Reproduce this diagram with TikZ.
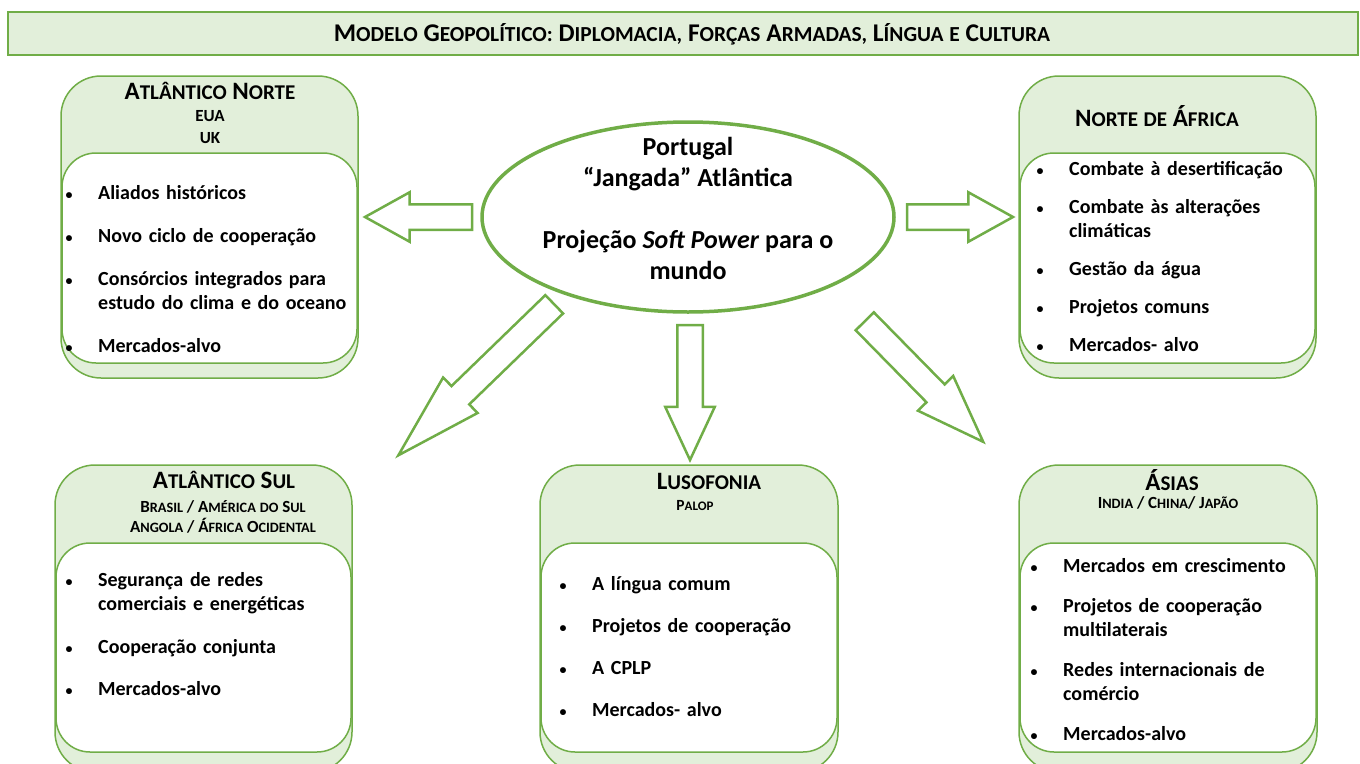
\documentclass[tikz,border=0pt]{standalone}
\usepackage{fontspec}
\setmainfont{Carlito}
\usepackage{enumitem}
\usetikzlibrary{shapes.geometric, shapes.arrows, positioning}

\definecolor{leafgreen}{HTML}{70AD47}
\definecolor{palegreen}{HTML}{E2EFDA}

\makeatletter
\newcommand\smcap[2]{#1{\fontsize{\fpeval{0.84*\f@size}}{\f@baselineskip}\selectfont #2}}
\makeatother

\setlist[itemize]{label={\strut\hspace*{2.5pt}{\fontsize{14}{14}\selectfont\textbullet}}, leftmargin=35pt, labelsep=0pt, labelwidth=35pt, align=left, topsep=0pt, partopsep=0pt, parsep=0pt, itemsep=19pt}

\begin{document}
\begin{tikzpicture}[x=1pt, y=-1pt,
    outerbox/.style={draw=leafgreen, line width=1.5pt, fill=palegreen, rounded corners=40pt},
    innerbox/.style={draw=leafgreen, line width=1.5pt, fill=white, rounded corners=34pt},
    titlebar/.style={draw=leafgreen, line width=2pt, fill=palegreen, minimum width=1350pt, minimum height=43pt, inner sep=0pt},
    titletext/.style={anchor=base, inner sep=0pt, font=\bfseries\fontsize{25.5}{30}\selectfont},
    regionhead/.style={anchor=base, inner sep=0pt, font=\bfseries\fontsize{25}{30}\selectfont},
    regionsub/.style={anchor=base, inner sep=0pt, font=\bfseries\fontsize{17}{20}\selectfont},
    itemlist/.style={anchor=north west, inner sep=0pt, text width=300pt, align=left, font=\bfseries\fontsize{20}{24}\selectfont},
    hub/.style={ellipse, draw=leafgreen, line width=3.5pt, fill=white, minimum width=412pt, minimum height=190pt, inner sep=0pt},
    hubtext/.style={align=center, inner sep=0pt, font=\bfseries\fontsize{26}{31}\selectfont},
    blockarrow/.style={single arrow, draw=leafgreen, line width=2.5pt, fill=white, inner xsep=0pt, inner ysep=11.5pt, minimum width=0pt, single arrow head extend=12pt, anchor=tail}]
    \useasboundingbox (0,0) rectangle (1360,763);

    % Title bar
    \node[titlebar] (titleBar) at (683,33.5) {};
    \node[titletext] (titleText) at (692,41) {\smcap{M}{ODELO} \smcap{G}{EOPOLÍTICO:} \smcap{D}{IPLOMACIA,} \smcap{F}{ORÇAS} \smcap{A}{RMADAS,} \smcap{L}{ÍNGUA} \smcap{}{E} \smcap{C}{ULTURA}};

    % Atlantico Norte
    \draw[outerbox] (61,76) rectangle (358,378);
    \draw[innerbox] (62,153) rectangle (357,363);
    \node[regionhead] (anHead) at (210,99) {\smcap{A}{TLÂNTICO} \smcap{N}{ORTE}};
    \node[regionsub] (anSubA) at (210,121.5) {EUA};
    \node[regionsub] (anSubB) at (210,143.5) {UK};
    \node[itemlist] (anItems) at (63,175) {\begin{itemize}
        \item Aliados históricos
        \item Novo ciclo de cooperação
        \item Consórcios integrados para\newline estudo do clima e do oceano
        \item Mercados-alvo
    \end{itemize}};

    % Norte de Africa
    \draw[outerbox] (1019,76) rectangle (1316,378);
    \draw[innerbox] (1020,153) rectangle (1315,363);
    \node[regionhead] (naHead) at (1157,126) {\smcap{N}{ORTE} \smcap{}{DE} \smcap{Á}{FRICA}};
    \node[itemlist] (naItems) at (1034,151) {\begin{itemize}[itemsep=14pt]
        \item Combate à desertificação
        \item Combate às alterações\newline climáticas
        \item Gestão da água
        \item Projetos comuns
        \item Mercados- alvo
    \end{itemize}};

    % Atlantico Sul
    \draw[outerbox] (55,465) rectangle (352,772);
    \draw[innerbox] (56,543) rectangle (351,752);
    \node[regionhead] (asHead) at (224,488) {\smcap{A}{TLÂNTICO} \smcap{S}{UL}};
    \node[regionsub] (asSubA) at (223,512) {\smcap{B}{RASIL} / \smcap{A}{MÉRICA} \smcap{}{DO} \smcap{S}{UL}};
    \node[regionsub] (asSubB) at (223,532) {\smcap{A}{NGOLA} / \smcap{Á}{FRICA} \smcap{O}{CIDENTAL}};
    \node[itemlist] (asItems) at (63,562.5) {\begin{itemize}[itemsep=18.5pt]
        \item Segurança de redes\newline comerciais e energéticas
        \item Cooperação conjunta
        \item Mercados-alvo
    \end{itemize}};

    % Lusofonia
    \draw[outerbox] (540,465) rectangle (838,772);
    \draw[innerbox] (541,543) rectangle (837,752);
    \node[regionhead] (luHead) at (709,489) {\smcap{L}{USOFONIA}};
    \node[regionsub, font=\bfseries\fontsize{15.5}{20}\selectfont] (luSub) at (695,510) {\smcap{P}{ALOP}};
    \node[itemlist] (luItems) at (557,566) {\begin{itemize}[itemsep=18pt]
        \item A língua comum
        \item Projetos de cooperação
        \item A CPLP
        \item Mercados- alvo
    \end{itemize}};

    % Asias
    \draw[outerbox] (1019,465) rectangle (1317,772);
    \draw[innerbox] (1020,543) rectangle (1316,752);
    \node[regionhead] (asiaHead) at (1172,490) {\smcap{Á}{SIAS}};
    \node[regionsub] (asiaSub) at (1168,508) {\smcap{I}{NDIA} / \smcap{C}{HINA}/ \smcap{J}{APÃO}};
    \node[itemlist] (asiaItems) at (1028,548) {\begin{itemize}[itemsep=16pt]
        \item Mercados em crescimento
        \item Projetos de cooperação\newline multilaterais
        \item Redes internacionais de\newline comércio
        \item Mercados-alvo
    \end{itemize}};

    % Central ellipse
    \node[hub] (portugal) at (688,217) {};
    \node[hubtext] (portugalText) at (688,208) {Portugal\\ “Jangada” Atlântica\\[31pt] Projeção \textit{Soft Power} para o\\ mundo};

    % Block arrows out of the ellipse
    \node[blockarrow, minimum height=107pt, single arrow tip angle=58, rotate=180] (toAN) at ([xshift=-7pt]portugal.west) {};
    \node[blockarrow, minimum height=106pt, single arrow tip angle=58] (toNA) at ([xshift=10pt]portugal.east) {};
    \node[blockarrow, minimum height=135pt, single arrow tip angle=50, rotate=-90] (toLU) at ([shift={(2,10)}]portugal.south) {};
    \node[blockarrow, minimum height=217pt, single arrow tip angle=32, rotate=224.1] (toAS) at ([shift={(14,18)}]portugal.south west) {};
    \node[blockarrow, minimum height=169pt, single arrow tip angle=40, rotate=-45.5] (toASIA) at ([shift={(29,35)}]portugal.south east) {};
\end{tikzpicture}
\end{document}
